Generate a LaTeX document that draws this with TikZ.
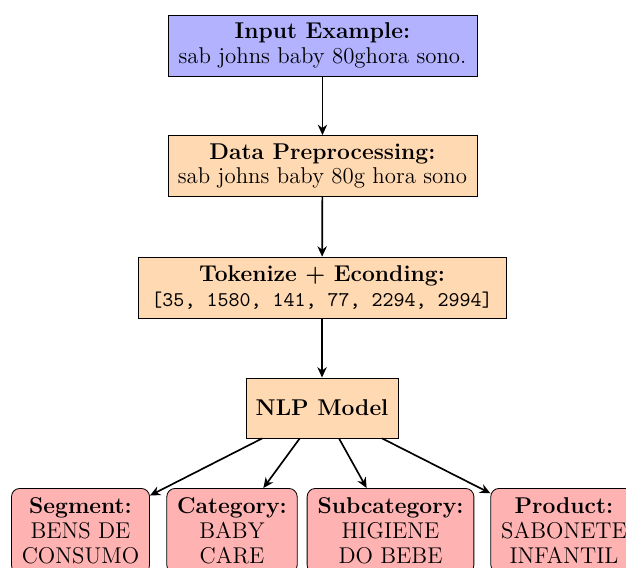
\documentclass[tikz,border=0pt]{standalone}
\usetikzlibrary{arrows.meta}
\begin{document}
\begin{tikzpicture}[x=1pt,y=1pt,
  every node/.style={font=\fontsize{11pt}{12pt}\selectfont},
  stagebox/.style={draw, fill=orange!30, align=center, minimum height=29.4pt, inner sep=3.33pt},
  inbox/.style={stagebox, fill=blue!30},
  outbox/.style={draw, fill=red!30, align=center, rounded corners=4pt, anchor=north, inner xsep=5pt, inner ysep=4.5pt},
  conn/.style={thick, -{Stealth[length=5pt,width=4.5pt]}}]
\useasboundingbox (0,0) rectangle (301.7,-273.3);
\node[inbox, minimum width=148.9pt] (inp) at (155.4,-21.9) {\textbf{Input Example:}\\sab johns baby 80ghora sono.};
\node[stagebox, minimum width=148.9pt] (pre) at (155.4,-80.0) {\textbf{Data Preprocessing:}\\sab johns baby 80g hora sono};
\node[stagebox, minimum width=177.3pt] (tok) at (155.2,-138.6) {\textbf{Tokenize + Econding:}\\{\fontsize{10.1pt}{12pt}\selectfont\texttt{[35, 1580, 141, 77, 2294, 2994]}}};
\node[stagebox, minimum width=73.3pt, minimum height=28.9pt] (nlp) at (155.2,-196.6) {\textbf{NLP Model}};
\node[outbox] (seg) at (38.8,-235.2) {\textbf{Segment:}\\BENS DE\\CONSUMO};
\node[outbox] (cat) at (111.8,-235.2) {\textbf{Category:}\\BABY\\CARE};
\node[outbox] (sub) at (188.2,-235.2) {\textbf{Subcategory:}\\HIGIENE\\DO BEBE};
\node[outbox] (prod) at (271.8,-235.2) {\textbf{Product:}\\SABONETE\\INFANTIL};
\draw[conn] (inp) -- (pre);
\draw[conn] (pre) -- (tok);
\draw[conn] (tok) -- (nlp);
\draw[conn] (nlp) -- (seg);
\draw[conn] (nlp) -- (cat);
\draw[conn] (nlp) -- (sub);
\draw[conn] (nlp) -- (prod);
\end{tikzpicture}
\end{document}
